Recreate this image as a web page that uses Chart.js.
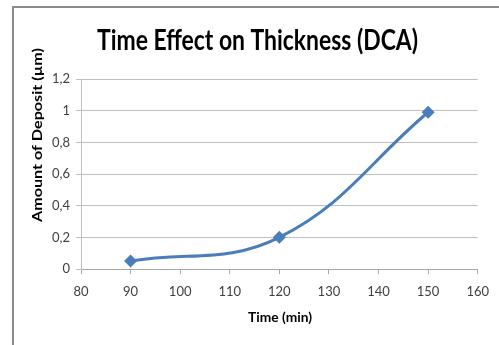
<!DOCTYPE html>
<html><head><meta charset="utf-8">
<script src="https://cdn.jsdelivr.net/npm/chart.js@4/dist/chart.umd.min.js"></script>
<style>html,body{margin:0;padding:0;background:#fff;}#wrap{width:499px;height:345px;position:relative;}</style>
</head><body><div id="wrap"><canvas id="c" width="499" height="345"></canvas></div>
<script>
const times = [90, 120, 150];
const deposit = [0.05, 0.2, 0.99];
const xTicks = [80, 90, 100, 110, 120, 130, 140, 150, 160];
const yTicks = [0, 0.2, 0.4, 0.6, 0.8, 1, 1.2];
const titleText = 'Time Effect on Thickness (DCA)';
const xTitle = 'Time (min)';
const yTitle = 'Amount of Deposit (\u00b5m)';

const fmt = v => String(Math.round(v*10)/10).replace('.', ',');

function fitText(ctx, text, cx, cy, width) {
  const w = ctx.measureText(text).width;
  ctx.save();
  ctx.translate(cx, cy);
  ctx.scale(width / w, 1);
  ctx.fillText(text, 0, 0);
  ctx.restore();
}

const decor = {
  id: 'decor',
  beforeDraw(chart) {
    const ctx = chart.ctx;
    ctx.save();
    ctx.fillStyle = '#fff';
    ctx.fillRect(0, 0, chart.width, chart.height);
    ctx.strokeStyle = '#8c8c8c';
    ctx.lineWidth = 2;
    ctx.beginPath();
    ctx.moveTo(13, 345);
    ctx.lineTo(13, 7);
    ctx.lineTo(499, 7);
    ctx.stroke();
    ctx.restore();
  },
  afterDraw(chart) {
    const ctx = chart.ctx;
    ctx.save();
    ctx.fillStyle = '#000';
    ctx.textAlign = 'center';
    ctx.textBaseline = 'alphabetic';
    ctx.font = 'bold 29px Lato, "Open Sans", sans-serif';
    fitText(ctx, titleText, 257.5, 50, 321);
    ctx.font = 'bold 13px Lato, "Open Sans", sans-serif';
    ctx.textBaseline = 'middle';
    fitText(ctx, xTitle, 280, 318, 64);
    ctx.translate(38, 135);
    ctx.rotate(-Math.PI/2);
    fitText(ctx, yTitle, 0, 0, 174);
    ctx.restore();
  }
};

new Chart(document.getElementById('c'), {
  type: 'scatter',
  data: {
    datasets: [{
      data: times.map((t, i) => ({x: t, y: deposit[i]})),
      showLine: true,
      borderColor: '#4a7ebb',
      backgroundColor: '#4a7ebb',
      borderWidth: 3,
      tension: 0.4,
      pointStyle: 'rectRot',
      pointRadius: 6.5,
      pointHoverRadius: 6.5,
      pointBorderWidth: 0
    }]
  },
  options: {
    responsive: false,
    animation: false,
    events: [],
    layout: { padding: { left: 0, right: 19, top: 79, bottom: 0 } },
    plugins: { legend: { display: false }, tooltip: { enabled: false }, title: { display: false } },
    scales: {
      x: {
        type: 'linear', min: 80, max: 160,
        afterBuildTicks: s => { s.ticks = xTicks.map(v => ({value: v})); },
        afterFit: s => { s.height = 76; },
        border: { display: true, color: '#a6a6a6', width: 1 },
        grid: { display: true, drawOnChartArea: false, drawTicks: true, tickLength: 5, color: '#a6a6a6' },
        ticks: { padding: 10, color: '#404040', font: { family: 'Lato, "Open Sans", sans-serif', size: 13 }, maxRotation: 0, autoSkip: false }
      },
      y: {
        type: 'linear', min: 0, max: 1.2,
        afterBuildTicks: s => { s.ticks = yTicks.map(v => ({value: v})); },
        afterFit: s => { s.width = 81; },
        border: { display: true, color: '#bfbfbf', width: 1 },
        grid: { display: true, color: '#bfbfbf', drawTicks: true, tickLength: 5, lineWidth: 1 },
        ticks: { padding: 6, color: '#404040', font: { family: 'Lato, "Open Sans", sans-serif', size: 13 }, callback: v => fmt(v), autoSkip: false }
      }
    }
  },
  plugins: [decor]
});
</script></body></html>
